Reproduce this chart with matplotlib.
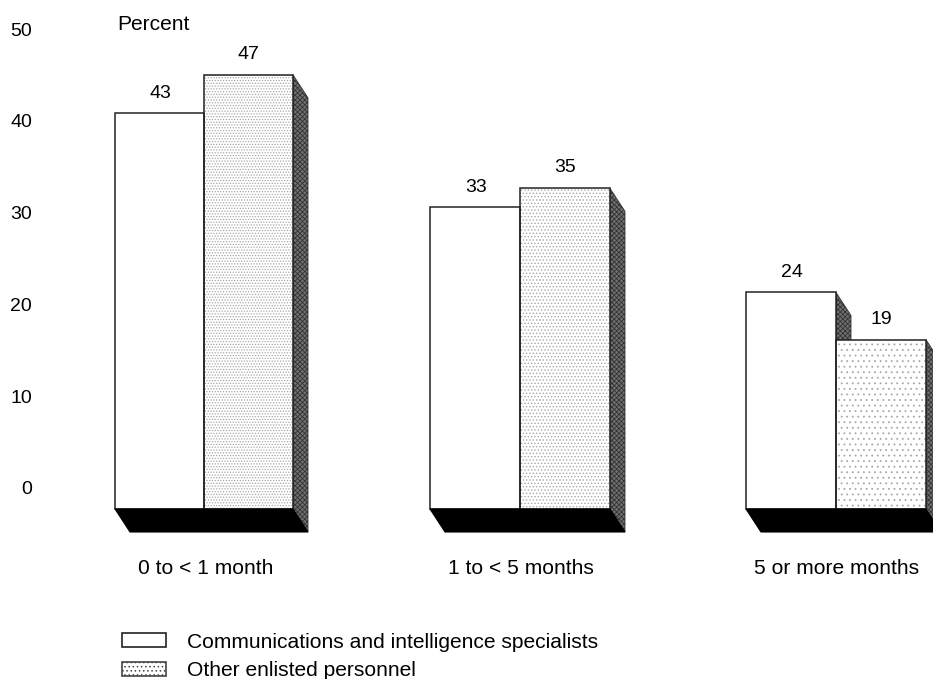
import matplotlib
matplotlib.use("Agg")
import matplotlib.pyplot as plt
from matplotlib.patches import Polygon, Patch
import matplotlib as mpl

plt.rcParams['font.family'] = ['Liberation Sans', 'DejaVu Sans']
mpl.rcParams['hatch.linewidth'] = 0.6

categories = ["0 to < 1 month", "1 to < 5 months", "5 or more months"]
comm_values = [43, 33, 24]
other_values = [47, 35, 19]
series_names = ["Communications and intelligence specialists", "Other enlisted personnel"]
y_tick_values = [0, 10, 20, 30, 40, 50]

W, H = 933, 679
ZERO_PX, PX_PER_UNIT = 519.5, 9.46
FLOOR = 10.5 / PX_PER_UNIT             # box floor sits just above the value origin
TICK_ZERO_PX, TICK_PX_PER_UNIT = 488, 9.18  # printed axis has its own spacing
DX, DY = 15, 23 / PX_PER_UNIT          # oblique depth of the 3-D boxes
group_left = [115, 430, 746]
bar_w = [89, 90, 90]
hatches = ["......", ".....", "..."]
STIPPLE = "#a8a8a8"
TICK_FS, LABEL_FS = 14, 15.1


def px_to_val(py):
    return (ZERO_PX - py) / PX_PER_UNIT


fig = plt.figure(figsize=(W / 100, H / 100), dpi=100)
ax = fig.add_axes([0, 0, 1, 1])
ax.set_xlim(0, W)
ax.set_ylim(px_to_val(H), px_to_val(0))
for s in ax.spines.values():
    s.set_visible(False)
ax.xaxis.set_visible(False)
ax.set_yticks([px_to_val(TICK_ZERO_PX - v * TICK_PX_PER_UNIT) for v in y_tick_values],
              [str(v) for v in y_tick_values])
ax.tick_params(axis='y', direction='in', pad=-23, length=0, labelsize=TICK_FS)

for i, left in enumerate(group_left):
    w = bar_w[i]
    x1, x2, x3 = left, left + w, left + 2 * w
    c, o = comm_values[i], other_values[i]
    ax.add_patch(Polygon([(x1, FLOOR), (x3, FLOOR), (x3 + DX, FLOOR - DY), (x1 + DX, FLOOR - DY)],
                         fc='black', ec='black', lw=0.8, zorder=4))
    ax.add_patch(Polygon([(x3, o), (x3 + DX, o - DY), (x3 + DX, FLOOR - DY), (x3, FLOOR)],
                         fc='#707070', ec='#333333', lw=0.6, hatch='xxxxxxx', zorder=1))
    if c > o:
        ax.add_patch(Polygon([(x2, c), (x2 + DX, c - DY), (x2 + DX, o), (x2, o)],
                             fc='#707070', ec='#333333', lw=0.6, hatch='xxxxxxx', zorder=1))
    ax.bar(x1, c - FLOOR, bottom=FLOOR, width=w, align='edge', fc='white', ec='#222222', lw=1.1, zorder=3)
    ax.bar(x2, o - FLOOR, bottom=FLOOR, width=w, align='edge', fc='white', ec=STIPPLE, lw=0,
           hatch=hatches[i], zorder=2)
    ax.bar(x2, o - FLOOR, bottom=FLOOR, width=w, align='edge', fc='none', ec='#222222', lw=1.1, zorder=3)
    ax.text(x1 + w / 2 + 1, c + 19.5 / PX_PER_UNIT, str(c), ha='center', va='center', fontsize=TICK_FS, zorder=5)
    ax.text(x2 + w / 2, o + 20.5 / PX_PER_UNIT, str(o), ha='center', va='center', fontsize=TICK_FS, zorder=5)
    ax.text(x1 + 91, px_to_val(569), categories[i], ha='center', va='center', fontsize=LABEL_FS)

ax.text(117, px_to_val(24), "Percent", ha='left', va='center', fontsize=LABEL_FS)

handles = [Patch(fc='white', ec='#222222', lw=1.2),
           Patch(fc='white', ec='#444444', lw=1.2, hatch='....')]
ax.legend(handles, series_names, loc='upper left', frameon=False, fontsize=LABEL_FS,
          bbox_to_anchor=(122 / W, 1 - 632.5 / H), bbox_transform=ax.transAxes,
          handlelength=2.1, handleheight=0.67, handletextpad=1.0, labelspacing=0.46,
          borderpad=0, borderaxespad=0)

fig.savefig("out.png", dpi=100)
